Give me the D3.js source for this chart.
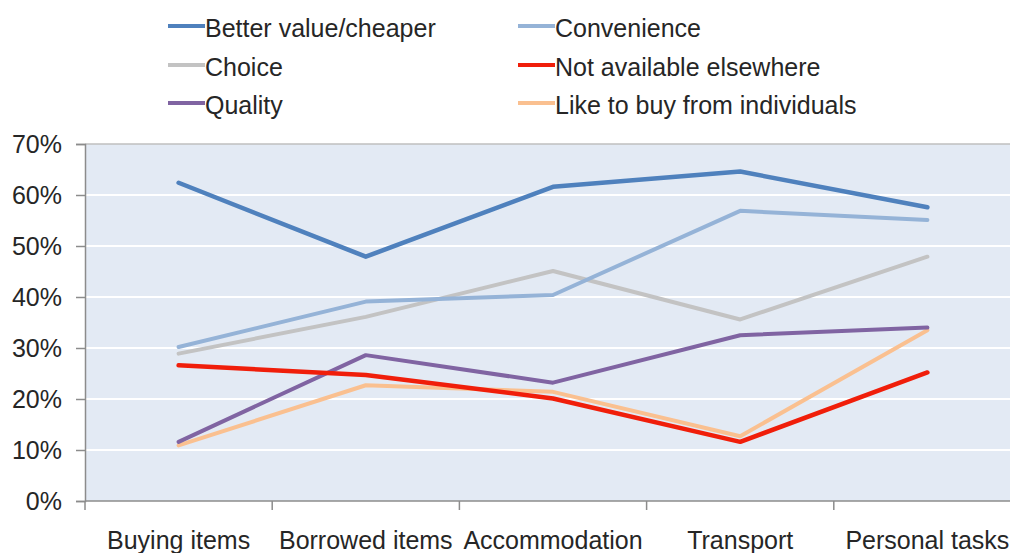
<!DOCTYPE html>
<html>
<head>
<meta charset="utf-8">
<script src="https://cdn.jsdelivr.net/npm/d3@7"></script>
<style>
  html, body { margin: 0; padding: 0; background: #fff; overflow: hidden; }
  svg { display: block; font-family: "Liberation Sans", Arial, sans-serif; }
</style>
</head>
<body>
<svg id="chart" width="1010" height="553"></svg>
<script>
// Categories along the x axis
const categories = ["Buying items", "Borrowed items", "Accommodation", "Transport", "Personal tasks"];

// Share of respondents per reason (%)
const betterValue     = [62.4, 47.9, 61.6, 64.6, 57.6];
const convenience     = [30.2, 39.1, 40.4, 56.9, 55.1];
const choice          = [28.9, 36.1, 45.1, 35.6, 47.9];
const notAvailable    = [26.6, 24.7, 20.1, 11.6, 25.2];
const quality         = [11.6, 28.6, 23.2, 32.5, 34.0];
const likeIndividuals = [10.9, 22.7, 21.4, 12.7, 33.5];

const seriesNames = ["Better value/cheaper", "Convenience", "Choice",
                     "Not available elsewhere", "Quality", "Like to buy from individuals"];
const seriesValues = [betterValue, convenience, choice, notAvailable, quality, likeIndividuals];
const seriesColors = ["#4f81bd", "#95b3d7", "#c3c3c3", "#f01e0a", "#8064a2", "#fac090"];
const seriesWidths = [4.5, 4, 4, 4.5, 4, 4];

const yTicks = [0, 10, 20, 30, 40, 50, 60, 70];

const svg = d3.select("#chart");
const W = 1010, H = 553;
const plot = { left: 85, right: 1021, top: 144, bottom: 501 };
const FONT = 25;

const x = d3.scaleBand().domain(categories).range([plot.left, plot.right]);
const y = d3.scaleLinear().domain([0, 70]).range([plot.bottom, plot.top]);

// Plot background
svg.append("rect")
  .attr("x", plot.left).attr("y", plot.top)
  .attr("width", plot.right - plot.left).attr("height", plot.bottom - plot.top)
  .attr("fill", "#e3eaf4");

// Gridlines
svg.append("g")
  .selectAll("line")
  .data(yTicks.filter(d => d > 0 && d < 70))
  .join("line")
  .attr("x1", plot.left).attr("x2", plot.right)
  .attr("y1", d => y(d)).attr("y2", d => y(d))
  .attr("stroke", "#ffffff").attr("stroke-width", 2);

// Top border of the plot area
svg.append("line")
  .attr("x1", plot.left).attr("x2", plot.right)
  .attr("y1", y(70)).attr("y2", y(70))
  .attr("stroke", "#bfbfbf").attr("stroke-width", 1.5);

// Y axis
const yAxis = svg.append("g")
  .attr("transform", `translate(${plot.left},0)`)
  .call(d3.axisLeft(y).tickValues(yTicks).tickFormat(d => d + "%").tickSize(9).tickPadding(14));
yAxis.select(".domain").attr("stroke", "#8c8c8c").attr("stroke-width", 1.5);
yAxis.selectAll(".tick line").attr("stroke", "#8c8c8c").attr("stroke-width", 1.5);
yAxis.selectAll(".tick text")
  .attr("font-size", FONT).attr("fill", "#262626")
  .attr("font-family", "'Liberation Sans', Arial, sans-serif");

// X axis with ticks on band boundaries
const xAxisG = svg.append("g").attr("transform", `translate(0,${plot.bottom})`);
xAxisG.append("line")
  .attr("x1", plot.left).attr("x2", plot.right)
  .attr("stroke", "#8c8c8c").attr("stroke-width", 1.5);
const boundaries = categories.map(c => x(c)).concat([x(categories[categories.length - 1]) + x.bandwidth()]);
xAxisG.selectAll("line.tk")
  .data(boundaries)
  .join("line").attr("class", "tk")
  .attr("x1", d => d).attr("x2", d => d)
  .attr("y1", 0).attr("y2", 9)
  .attr("stroke", "#8c8c8c").attr("stroke-width", 1.5);
xAxisG.selectAll("text")
  .data(categories)
  .join("text")
  .attr("x", d => x(d) + x.bandwidth() / 2)
  .attr("y", 48)
  .attr("text-anchor", "middle")
  .attr("font-size", FONT).attr("fill", "#262626")
  .text(d => d);

// Lines
const line = d3.line()
  .x((d, i) => x(categories[i]) + x.bandwidth() / 2)
  .y(d => y(d));

const drawOrder = [5, 4, 3, 2, 1, 0];
svg.append("g")
  .selectAll("path")
  .data(drawOrder)
  .join("path")
  .attr("d", i => line(seriesValues[i]))
  .attr("fill", "none")
  .attr("stroke", i => seriesColors[i])
  .attr("stroke-width", i => seriesWidths[i])
  .attr("stroke-linejoin", "round")
  .attr("stroke-linecap", "round");

// Legend: two columns, three rows
const legendCols = [168, 518];
const legendRows = [28, 67, 105];
const legend = svg.append("g");
seriesNames.forEach((name, i) => {
  const cx = legendCols[i % 2];
  const cy = legendRows[Math.floor(i / 2)];
  const g = legend.append("g").attr("transform", `translate(${cx},${cy})`);
  g.append("line")
    .attr("x1", 0).attr("x2", 37).attr("y1", -2).attr("y2", -2)
    .attr("stroke", seriesColors[i]).attr("stroke-width", 4);
  g.append("text")
    .attr("x", 37).attr("y", 0).attr("dy", "0.35em")
    .attr("font-size", FONT).attr("fill", "#262626")
    .text(name);
});
</script>
</body>
</html>
